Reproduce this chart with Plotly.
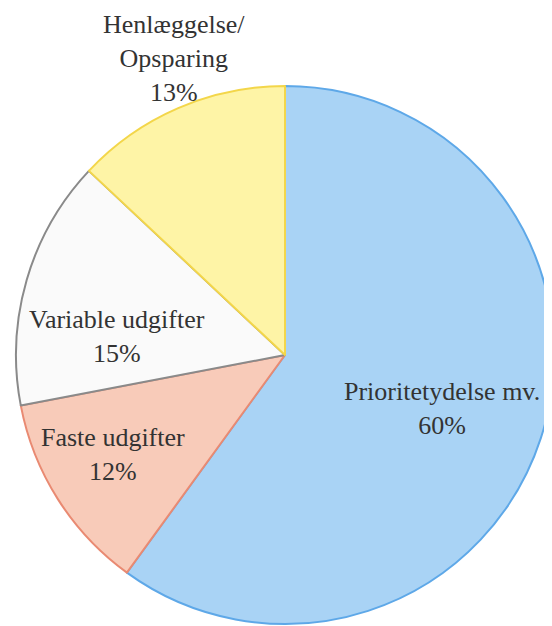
import plotly.graph_objects as go

# Data
labels = ["Prioritetydelse mv.", "Faste udgifter", "Variable udgifter", "Henlæggelse/<br>Opsparing"]
values = [60, 12, 15, 13]

# Styles
fill_colors = ["#a9d3f5", "#f8cbb9", "#fafafa", "#fef4a6"]
line_colors = ["#5ea8e8", "#e98a72", "#8a8a8a", "#f3d64a"]

W, H = 552, 626
OFF = 8  # default body margin of the html page
# pie centre / radius in page pixels
CX, CY, R = 285, 355, 269
# label anchor positions in page pixels (centre of text block)
label_px = [(442, 408), (113, 454), (117, 336), (174, 58)]

cx, cy = CX - OFF, CY - OFF
fig = go.Figure()
fig.add_trace(go.Pie(
    labels=labels,
    values=values,
    sort=False,
    direction="clockwise",
    rotation=0,
    textinfo="none",
    hoverinfo="label+percent",
    marker=dict(colors=fill_colors, line=dict(color=line_colors, width=2)),
    domain=dict(x=[(cx - R) / W, (cx + R) / W],
                y=[(H - cy - R) / H, (H - cy + R) / H]),
    showlegend=False,
))

total = sum(values)
for lab, val, (px, py) in zip(labels, values, label_px):
    fig.add_annotation(
        text=f"{lab}<br>{round(100 * val / total)}%",
        x=(px - OFF) / W, y=1 - (py - OFF) / H, xref="paper", yref="paper",
        xanchor="center", yanchor="middle", showarrow=False,
        font=dict(family="Liberation Serif, Times New Roman, serif", size=26, color="#333333"),
    )

fig.update_layout(
    width=W, height=H,
    margin=dict(l=0, r=0, t=0, b=0),
    paper_bgcolor="white", plot_bgcolor="white",
)
fig.write_html("out.html")
